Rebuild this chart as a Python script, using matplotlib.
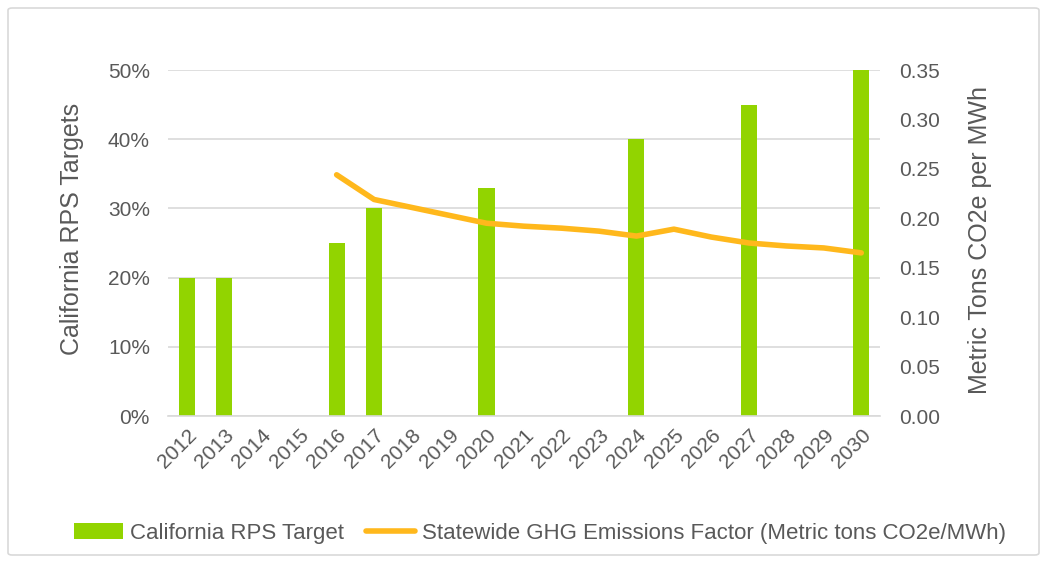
import numpy as np
import matplotlib
matplotlib.use("Agg")
import matplotlib.pyplot as plt
from matplotlib.patches import FancyBboxPatch
from matplotlib.ticker import PercentFormatter

plt.rcParams['font.family'] = ['Liberation Sans', 'DejaVu Sans']

# --------- data ---------
years = [str(y) for y in range(2012, 2031)]
rps_target = [20, 20, np.nan, np.nan, 25, 30, np.nan, np.nan, 33, np.nan,
              np.nan, np.nan, 40, np.nan, np.nan, 45, np.nan, np.nan, 50]
ghg_factor = [np.nan, np.nan, np.nan, np.nan, 0.244, 0.219, 0.211, 0.203, 0.195, 0.192,
              0.190, 0.187, 0.182, 0.189, 0.181, 0.175, 0.172, 0.170, 0.165]

green = '#92D400'
orange = '#FFB81C'
txt = '#595959'
grid = '#D9D9D9'

fig = plt.figure(figsize=(10.47, 5.63), dpi=100)
# outer frame of the chart
fig.patches.append(FancyBboxPatch((8/1047, 8/563), 1 - 16/1047, 1 - 16/563,
                                  boxstyle='round,pad=0,rounding_size=0.004',
                                  transform=fig.transFigure, fill=False,
                                  edgecolor=grid, linewidth=1.2))

ax = fig.add_axes([168/1047, 1 - 416/563, (880 - 168)/1047, (416 - 70)/563])
x = np.arange(len(years))
ax.bar(x, rps_target, width=0.43, color=green, label='California RPS Target', zorder=2)
ax.set_xlim(-0.5, len(years) - 0.5)
ax.set_ylim(0, 50)
ax.set_yticks(np.arange(0, 51, 10))
ax.yaxis.set_major_formatter(PercentFormatter(decimals=0))
ax.grid(axis='y', color=grid, linewidth=1.2, zorder=0)
ax.set_axisbelow(True)
for s in ['top', 'right', 'left']:
    ax.spines[s].set_visible(False)
ax.spines['bottom'].set_color(grid)
ax.spines['bottom'].set_linewidth(1.2)
ax.tick_params(length=0, colors=txt, labelsize=15)
ax.tick_params(axis='y', pad=13)
ax.tick_params(axis='x', pad=7)
ax.set_xticks(x)
ax.set_xticklabels(years, rotation=45, ha='right', rotation_mode='anchor')
ax.set_ylabel('California RPS Targets', color=txt, fontsize=18)
ax.yaxis.set_label_coords(-0.118, 0.54)

ax2 = ax.twinx()
ax2.plot(x, ghg_factor, color=orange, linewidth=4, solid_capstyle='round',
         label='Statewide GHG Emissions Factor (Metric tons CO2e/MWh)', zorder=3)
ax2.set_ylim(0, 0.35)
ax2.set_yticks(np.arange(0, 0.351, 0.05))
ax2.set_yticklabels([f'{v:.2f}' for v in np.arange(0, 0.351, 0.05)])
for s in ax2.spines.values():
    s.set_visible(False)
ax2.tick_params(length=0, colors=txt, labelsize=15, pad=14)
ax2.set_ylabel('Metric Tons CO2e per MWh', color=txt, fontsize=18)
ax2.yaxis.set_label_coords(1.123, 0.51)

h1, l1 = ax.get_legend_handles_labels()
h2, l2 = ax2.get_legend_handles_labels()
fig.legend(h1 + h2, l1 + l2, loc='center', bbox_to_anchor=(540/1047, 1 - 533/563),
           ncol=2, frameon=False, fontsize=16, labelcolor=txt,
           handlelength=2.2, handletextpad=0.3, columnspacing=1.0)

fig.savefig('out.png', dpi=100)
